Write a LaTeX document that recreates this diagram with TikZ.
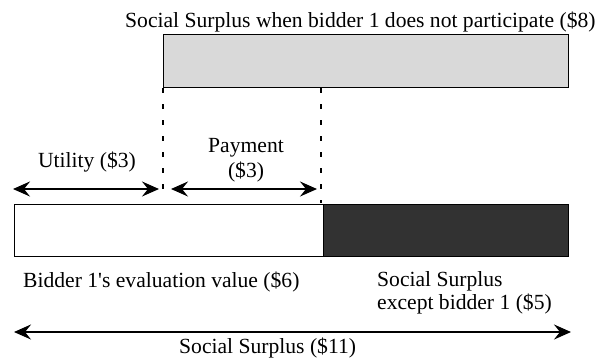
\documentclass[tikz,border=0pt]{standalone}
\usepackage{fontspec}
\setmainfont{Liberation Serif}
\usetikzlibrary{arrows.meta}
\tikzset{
  lbl/.style={inner sep=0pt, anchor=base west, font=\fontsize{21.6}{25}\selectfont},
  bar/.style={draw=black, line width=1.4pt, inner sep=0pt, anchor=north west},
  dim/.style={line width=2pt, {Stealth[length=17pt,width=15pt,inset=6pt]}-{Stealth[length=17pt,width=15pt,inset=6pt]}},
  guide/.style={line width=1.3pt, dash pattern=on 5pt off 11pt}
}
\begin{document}
\begin{tikzpicture}[x=1pt,y=-1pt]
\useasboundingbox (0,0) rectangle (612,360);
% bars
\node[bar, fill={rgb,255:red,217;green,217;blue,217}, minimum width=405pt, minimum height=53pt] (gray) at (163,34) {};
\node[bar, fill=white, minimum width=309pt, minimum height=52pt] (white) at (14,204) {};
\node[bar, fill={rgb,255:red,50;green,50;blue,50}, minimum width=245pt, minimum height=52pt] (dark) at (323,204) {};
% guides
\coordinate (g1a) at (163,88);
\coordinate (g1b) at (163,197);
\coordinate (g2a) at (321,88);
\coordinate (g2b) at (321,203);
\draw[guide] (g1a) -- (g1b);
\draw[guide] (g2a) -- (g2b);
% arrows
\coordinate (u1) at (13,189);
\coordinate (u2) at (159,189);
\coordinate (p1) at (171,189);
\coordinate (p2) at (317,189);
\coordinate (s1) at (14,332);
\coordinate (s2) at (571,332);
\draw[dim] (u1) -- (u2);
\draw[dim] (p1) -- (p2);
\draw[dim] (s1) -- (s2);
% labels
\node[lbl] (title) at (125,27) {Social Surplus when bidder 1 does not participate (\$8)};
\node[lbl, anchor=base] (util) at (87,167) {Utility (\$3)};
\node[lbl, anchor=base] (pay) at (246,152) {Payment};
\node[lbl, anchor=base] (pay2) at (246,177) {(\$3)};
\node[lbl] (eval) at (23,287) {Bidder 1\textquotesingle s evaluation value (\$6)};
\node[lbl] (ex1) at (377,286) {Social Surplus};
\node[lbl] (ex2) at (377,309) {except bidder 1 (\$5)};
\node[lbl] (tot) at (179,353) {Social Surplus (\$11)};
\end{tikzpicture}
\end{document}
